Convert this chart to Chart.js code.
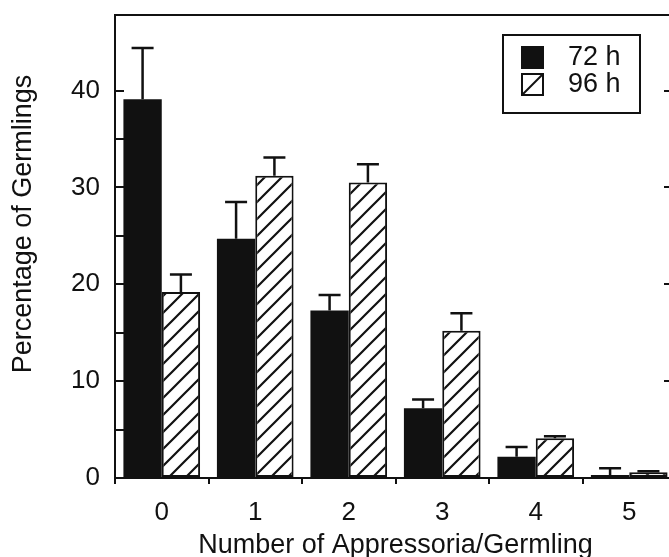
<!DOCTYPE html>
<html>
<head>
<meta charset="utf-8">
<script src="https://cdn.jsdelivr.net/npm/chart.js@4"></script>
<style>
  html, body { margin: 0; padding: 0; background: #fff; overflow: hidden; }
  canvas { display: block; }
</style>
</head>
<body>
<canvas id="chart" width="690" height="557"></canvas>
<script>
// Appressoria per germling, 72 h vs 96 h (mean and upper error)
const categories = ['0', '1', '2', '3', '4', '5'];
const seriesLabels = ['72 h', '96 h'];
const mean72 = [39.1, 24.7, 17.3, 7.2, 2.2, 0.3];
const err72  = [5.3, 3.8, 1.6, 0.9, 1.0, 0.7];
const mean96 = [19.2, 31.2, 30.5, 15.2, 4.1, 0.6];
const err96  = [1.8, 1.9, 1.9, 1.8, 0.2, 0.1];
const yMin = 0;
const yMax = 47.8;
const yStep = 5;
const yLabelStep = 10;

const INK = '#111111';
const FONT = "'Liberation Sans', Arial, Helvetica, sans-serif";

const canvas = document.getElementById('chart');
const ctx = canvas.getContext('2d');

// Diagonal "/" hatch fill
function hatchPattern(c2d) {
  const s = 17;
  const tile = document.createElement('canvas');
  tile.width = s; tile.height = s;
  const g = tile.getContext('2d');
  g.fillStyle = '#fff';
  g.fillRect(0, 0, s, s);
  g.strokeStyle = INK;
  g.lineWidth = 2.2;
  g.beginPath();
  g.moveTo(-1, s + 1); g.lineTo(s + 1, -1);
  g.moveTo(-s / 2 - 1, s / 2 + 1); g.lineTo(s / 2 + 1, -s / 2 - 1);
  g.moveTo(s / 2 - 1, s * 1.5 + 1); g.lineTo(s * 1.5 + 1, s / 2 - 1);
  g.stroke();
  return c2d.createPattern(tile, 'repeat');
}
const hatch = hatchPattern(ctx);

// Upward error bars with caps
const errorBars = {
  id: 'errorBars',
  afterDatasetsDraw(chart) {
    const c = chart.ctx;
    const y = chart.scales.y;
    c.save();
    c.strokeStyle = INK;
    c.lineWidth = 2.5;
    chart.data.datasets.forEach((ds, i) => {
      const meta = chart.getDatasetMeta(i);
      meta.data.forEach((bar, j) => {
        const top = y.getPixelForValue(ds.data[j] + ds.errors[j]);
        const half = 11;
        c.beginPath();
        c.moveTo(bar.x, bar.y);
        c.lineTo(bar.x, top);
        c.moveTo(bar.x - half, top);
        c.lineTo(bar.x + half, top);
        c.stroke();
      });
    });
    c.restore();
  }
};

// Framed legend in the upper right of the plot
const boxedLegend = {
  id: 'boxedLegend',
  afterDraw(chart) {
    const c = chart.ctx;
    const area = chart.chartArea;
    const w = 137, h = 78;
    const left = area.right - 36 - w;
    const top = area.top + 20;
    c.save();
    c.lineWidth = 2;
    c.strokeStyle = INK;
    c.fillStyle = '#fff';
    c.fillRect(left, top, w, h);
    c.strokeRect(left, top, w, h);
    c.font = '27px ' + FONT;
    c.textBaseline = 'middle';
    c.textAlign = 'left';
    chart.data.datasets.forEach((ds, i) => {
      const sx = left + 18;
      const sy = top + 11 + i * 27;
      const sz = 23;
      if (ds.hatched) {
        c.fillStyle = '#fff';
        c.fillRect(sx, sy, sz, sz);
        c.strokeRect(sx + 1, sy + 1, sz - 2, sz - 2);
        c.beginPath();
        c.moveTo(sx + 1, sy + sz - 1);
        c.lineTo(sx + sz - 1, sy + 1);
        c.stroke();
      } else {
        c.fillStyle = ds.backgroundColor;
        c.fillRect(sx, sy, sz, sz);
      }
      c.fillStyle = INK;
      c.fillText(ds.label, left + 65, sy + 12);
    });
    c.restore();
  }
};

const keepSteps = (step) => (scale) => {
  scale.ticks = scale.ticks.filter(t => Math.abs(t.value / step - Math.round(t.value / step)) < 1e-6);
};

// Fixed axis sizes; label overhang is not reserved around the plot
const fixSize = (prop, size) => (scale) => {
  scale[prop] = size;
  scale.paddingTop = 0;
  scale.paddingBottom = 0;
  scale.paddingLeft = 0;
  scale.paddingRight = 0;
};

new Chart(ctx, {
  type: 'bar',
  data: {
    labels: categories,
    datasets: [
      {
        label: seriesLabels[0], data: mean72, errors: err72,
        backgroundColor: INK, borderColor: INK, borderWidth: 0
      },
      {
        label: seriesLabels[1], data: mean96, errors: err96, hatched: true,
        backgroundColor: hatch, borderColor: INK, borderWidth: 2, borderSkipped: false
      }
    ]
  },
  options: {
    responsive: false,
    animation: false,
    layout: { padding: 0 },
    datasets: { bar: { categoryPercentage: 0.82, barPercentage: 1.0 } },
    plugins: { legend: { display: false }, tooltip: { enabled: false } },
    scales: {
      x: {
        type: 'category',
        position: 'bottom',
        offset: true,
        afterFit: fixSize('height', 79),
        ticks: { color: INK, font: { family: FONT, size: 26 }, padding: 13 },
        grid: { drawOnChartArea: false, offset: true, tickLength: 6, color: INK, lineWidth: 2 },
        border: { display: true, color: INK, width: 2 },
        title: {
          display: true, text: 'Number of Appressoria/Germling', color: INK,
          font: { family: FONT, size: 27, lineHeight: 1 }, padding: { top: 0, bottom: -2 }
        }
      },
      xTop: {
        type: 'category',
        position: 'top',
        afterFit: fixSize('height', 15),
        ticks: { display: false },
        grid: { display: false },
        border: { display: true, color: INK, width: 2 }
      },
      y: {
        type: 'linear',
        position: 'left',
        min: yMin, max: yMax,
        afterBuildTicks: keepSteps(yStep),
        afterFit: fixSize('width', 115),
        ticks: {
          stepSize: yStep, autoSkip: false, color: INK,
          font: { family: FONT, size: 26 }, padding: 24,
          callback: v => (v % yLabelStep === 0 ? v : '')
        },
        grid: { drawOnChartArea: false, drawTicks: true, tickLength: -9, color: INK, lineWidth: 2 },
        border: { display: true, color: INK, width: 2 },
        title: {
          display: true, text: '      Percentage of Germlings', color: INK,
          font: { family: FONT, size: 27, lineHeight: 1 }, padding: { top: 10, bottom: 0 }
        }
      },
      yRight: {
        type: 'linear',
        position: 'right',
        min: yMin, max: yMax,
        afterBuildTicks: keepSteps(yLabelStep),
        afterFit: fixSize('width', 14),
        ticks: { display: false, stepSize: yLabelStep },
        grid: { drawOnChartArea: false, drawTicks: true, tickLength: -12, color: INK, lineWidth: 2 },
        border: { display: false }
      }
    }
  },
  plugins: [errorBars, boxedLegend]
});
</script>
</body>
</html>
